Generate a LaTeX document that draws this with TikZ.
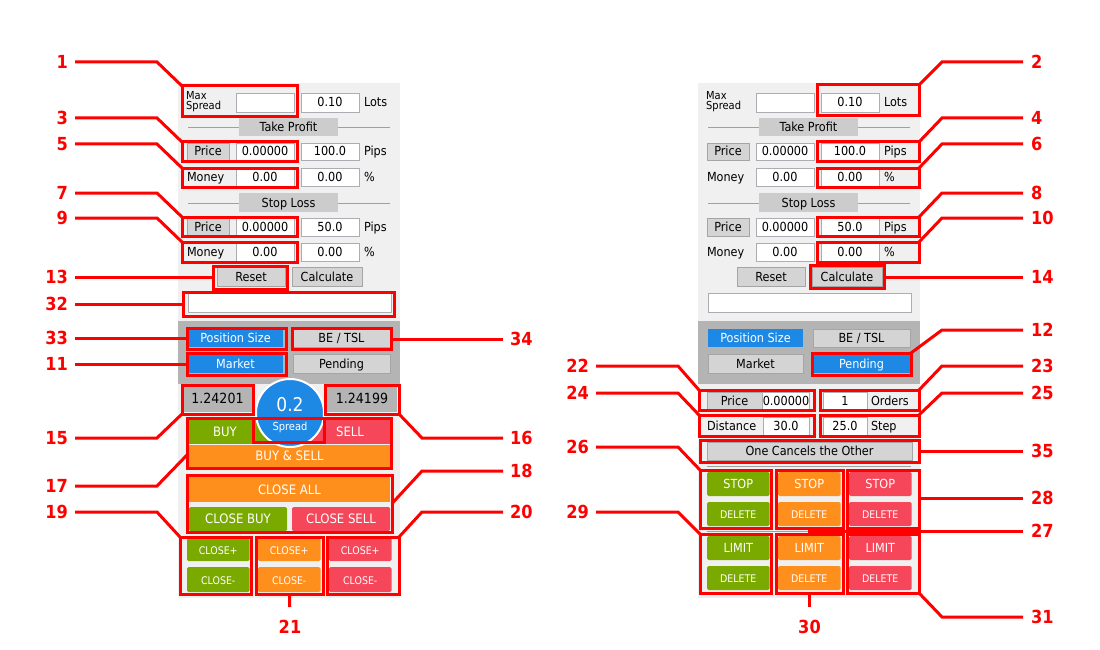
\documentclass[tikz,border=0pt]{standalone}
\usepackage{fontspec}
\usepackage{xcolor}
\usetikzlibrary{fit}
\newfontfamily\uifam{DejaVu Sans Condensed}[BoldFont={DejaVu Sans Condensed Bold}]
\newcommand\uifont{\uifam\fontsize{12.5}{14}\selectfont}
\newcommand\smallui{\uifam\fontsize{10.5}{12}\selectfont}
\newcommand\midui{\uifam\fontsize{12.5}{14}\selectfont}
\newcommand\bigui{\uifam\fontsize{13}{15}\selectfont}
\newcommand\numfont{\uifam\bfseries\fontsize{18}{20}\selectfont}
\definecolor{panelbg}{RGB}{240,240,240}
\definecolor{darkbg}{RGB}{180,180,180}
\definecolor{hlred}{RGB}{255,0,0}
\definecolor{btngray}{RGB}{212,212,212}
\definecolor{btnline}{RGB}{165,165,165}
\definecolor{titlegray}{RGB}{204,204,204}
\definecolor{fieldline}{RGB}{171,173,179}
\definecolor{sepline}{RGB}{160,160,160}
\definecolor{uiblue}{RGB}{30,136,229}
\definecolor{uigreen}{RGB}{122,170,0}
\definecolor{uiorange}{RGB}{255,143,28}
\definecolor{uired}{RGB}{245,70,90}
\definecolor{pricegray}{RGB}{180,180,180}

\begin{document}
\begin{tikzpicture}[x=1pt, y=-1pt,
    ui/.style={font=\uifont, inner sep=0pt, outer sep=0pt, text height=9pt, text depth=0pt},
    wh/.style 2 args={minimum width=#1, minimum height=#2},
    field/.style={ui, draw=fieldline, fill=white, line width=0.8pt},
    gbtn/.style={ui, draw=btnline, fill=btngray, line width=0.8pt},
    titlebtn/.style={ui, fill=titlegray},
    cbtn/.style={ui, fill=#1, text=white, rounded corners=1.5pt},
    hl/.style={draw=hlred, line width=3pt, inner sep=0pt, outer sep=0pt},
    num/.style={font=\numfont, text=hlred, inner sep=0pt, outer sep=0pt},
    lead/.style={draw=hlred, line width=3pt},
    divider/.style={draw=sepline, line width=0.8pt}]
    \useasboundingbox (0,0) rectangle (1100,650);
    \fill[white] (0,0) rectangle (1100,650);

    % panels
    \foreach \dx in {0,520} {
        \fill[panelbg] (178+\dx,83) rectangle (400+\dx,598);
        \fill[darkbg] (178+\dx,321) rectangle (400+\dx,384);
    }

    % top part, the same in both panels
    \foreach \p/\dx in {L/0,R/520} {
        \node[anchor=west, align=left, inner sep=0pt, font=\uifam\fontsize{11}{10}\selectfont] (\p-mslbl) at (186+\dx,102) {Max\\Spread};
        \node[field, fit={(236+\dx,93) (294+\dx,112)}] (\p-ms) {};
        \node[field, wh={58}{19}] (\p-lots) at (330+\dx,102.5) {0.10};
        \node[ui, anchor=west] (\p-lotslbl) at (364+\dx,102.5) {Lots};
        % take profit
        \draw[divider] (188+\dx,127) -- (390+\dx,127);
        \node[titlebtn, wh={99}{18}] (\p-tp) at (288.5+\dx,127) {Take Profit};
        \node[gbtn, wh={42}{17}] (\p-tpprice) at (208+\dx,151.5) {Price};
        \node[field, wh={58}{17}] (\p-tpval) at (265+\dx,151.5) {0.00000};
        \node[field, wh={58}{17}] (\p-tppips) at (330+\dx,151.5) {100.0};
        \node[ui, anchor=west] (\p-tppipslbl) at (364+\dx,151.5) {Pips};
        \node[ui, anchor=west] (\p-tpmoneylbl) at (187+\dx,177) {Money};
        \node[field, wh={58}{18}] (\p-tpmoney) at (265+\dx,177) {0.00};
        \node[field, wh={58}{18}] (\p-tppct) at (330+\dx,177) {0.00};
        \node[ui, anchor=west] (\p-tppctlbl) at (364+\dx,177) {\%};
        % stop loss
        \draw[divider] (188+\dx,203) -- (390+\dx,203);
        \node[titlebtn, wh={99}{19}] (\p-sl) at (288.5+\dx,202.5) {Stop Loss};
        \node[gbtn, wh={42}{18}] (\p-slprice) at (208+\dx,227) {Price};
        \node[field, wh={58}{18}] (\p-slval) at (265+\dx,227) {0.00000};
        \node[field, wh={58}{18}] (\p-slpips) at (330+\dx,227) {50.0};
        \node[ui, anchor=west] (\p-slpipslbl) at (364+\dx,227) {Pips};
        \node[ui, anchor=west] (\p-slmoneylbl) at (187+\dx,252) {Money};
        \node[field, wh={58}{18}] (\p-slmoney) at (265+\dx,252) {0.00};
        \node[field, wh={58}{18}] (\p-slpct) at (330+\dx,252) {0.00};
        \node[ui, anchor=west] (\p-slpctlbl) at (364+\dx,252) {\%};
        % buttons and message line
        \node[gbtn, wh={68}{19}] (\p-reset) at (251+\dx,276.5) {Reset};
        \node[gbtn, wh={70}{19}] (\p-calc) at (327+\dx,276.5) {Calculate};
        \node[field, fit={(188+\dx,293) (391+\dx,312)}] (\p-msg) {};
        \node[cbtn=uiblue, rounded corners=0pt, wh={95}{18}] (\p-possize) at (235.5+\dx,338) {Position Size};
        \node[gbtn, wh={97}{18}] (\p-betsl) at (341.5+\dx,338) {BE / TSL};
    }

    % market / pending
    \node[cbtn=uiblue, rounded corners=0pt, wh={95}{19}] (L-market) at (235.5,363.5) {Market};
    \node[gbtn, wh={97}{19}] (L-pending) at (341.5,363.5) {Pending};
    \node[gbtn, wh={95}{19}] (R-market) at (755.5,363.5) {Market};
    \node[cbtn=uiblue, rounded corners=0pt, wh={97}{19}] (R-pending) at (861.5,363.5) {Pending};

    % left panel: market orders
    \node[ui, fill=pricegray, font=\uifam\fontsize{14}{15}\selectfont, wh={69}{26}] (ask) at (217.5,399) {1.24201};
    \node[ui, fill=pricegray, font=\uifam\fontsize{14}{15}\selectfont, wh={70}{26}] (bid) at (362,399) {1.24199};
    \fill[uigreen] (189,419) rectangle (290,444);
    \fill[uired] (290,419) rectangle (390,444);
    \node[ui, text=white, font=\bigui] (buy) at (225,431.5) {BUY};
    \node[ui, text=white, font=\bigui] (sell) at (350,431.5) {SELL};
    \node[cbtn=uiorange, rounded corners=0pt, font=\bigui, wh={201}{23}] (buysell) at (289.5,456) {BUY \& SELL};
    \node[circle, fill=uiblue, draw=white, line width=2pt, minimum size=68pt, inner sep=0pt] (spread) at (290,413) {};
    \node[ui, text=white, font=\uifam\fontsize{19}{21}\selectfont, text height=13.8pt] (spreadval) at (290,404.5) {0.2};
    \node[ui, text=white, font=\uifam\fontsize{11}{12}\selectfont, text height=8pt] (spreadlbl) at (290,426) {Spread};
    \draw[hlred, line width=3pt] (253,418) rectangle (324,442);
    \node[cbtn=uiorange, rounded corners=0pt, font=\bigui, wh={201}{25}] (closeall) at (289.5,489.5) {CLOSE ALL};
    \node[cbtn=uigreen, font=\bigui, wh={98}{24}] (closebuy) at (238,519) {CLOSE BUY};
    \node[cbtn=uired, font=\bigui, wh={98}{24}] (closesell) at (341,519) {CLOSE SELL};
    \foreach \c/\x/\col in {1/187/uigreen,2/258/uiorange,3/329/uired} {
        \node[cbtn=\col, font=\smallui, wh={62.5}{23}] (closep\c) at (\x+31.25,549.5) {CLOSE+};
        \node[cbtn=\col, font=\smallui, wh={62.5}{25}] (closem\c) at (\x+31.25,579.5) {CLOSE-};
    }

    % right panel: pending orders
    \node[gbtn, wh={55}{17}] (pprice) at (734.5,400.5) {Price};
    \node[field, wh={46}{17}] (ppriceval) at (786,400.5) {0.00000};
    \node[field, wh={44}{17}] (orders) at (845,400.5) {1};
    \node[ui, anchor=west] (orderslbl) at (871,400.5) {Orders};
    \node[ui, anchor=west] (distlbl) at (707,426) {Distance};
    \node[field, wh={46}{18}] (dist) at (786,426) {30.0};
    \node[field, wh={44}{18}] (stepval) at (845,426) {25.0};
    \node[ui, anchor=west] (steplbl) at (871,426) {Step};
    \node[gbtn, wh={205}{18}] (oco) at (809.5,451) {One Cancels the Other};
    \draw[divider] (707,466) -- (911,466);
    \draw[divider] (707,531) -- (911,531);
    \foreach \c/\x/\col in {1/707/uigreen,2/778/uiorange,3/849/uired} {
        \node[cbtn=\col, font=\midui, wh={62.5}{24}] (stop\c) at (\x+31.25,484) {STOP};
        \node[cbtn=\col, font=\smallui, wh={62.5}{24}] (stopdel\c) at (\x+31.25,514) {DELETE};
        \node[cbtn=\col, font=\midui, wh={62.5}{24}] (limit\c) at (\x+31.25,548) {LIMIT};
        \node[cbtn=\col, font=\smallui, wh={62.5}{24}] (limitdel\c) at (\x+31.25,578) {DELETE};
    }

    % red marks, left panel
    \node[hl, fit={(182,86) (297,117)}] (h1) {};
    \node[hl, fit={(182,142) (297,161)}] (h3) {};
    \node[hl, fit={(182,168) (297,187)}] (h5) {};
    \node[hl, fit={(182,217) (297,236)}] (h7) {};
    \node[hl, fit={(182,242) (297,262)}] (h9) {};
    \node[hl, fit={(213,266) (287,289)}] (h13) {};
    \node[hl, fit={(183,292) (394,316)}] (h32) {};
    \node[hl, fit={(187,328) (286,349)}] (h33) {};
    \node[hl, fit={(292,328) (391,349)}] (h34) {};
    \node[hl, fit={(187,353) (286,375)}] (h11) {};
    \node[hl, fit={(182,385) (253,414)}] (h15) {};
    \node[hl, fit={(325,385) (399,414)}] (h16) {};
    \node[hl, fit={(187,418) (391,468)}] (h17) {};
    \node[hl, fit={(187,475) (392,532)}] (h18) {};
    \node[hl, fit={(180,537) (251,594)}] (h19) {};
    \node[hl, fit={(256,537) (323,594)}] (h21) {};
    \node[hl, fit={(327,537) (399,594)}] (h20) {};

    % red marks, right panel
    \node[hl, fit={(817,85) (919,116)}] (h2) {};
    \node[hl, fit={(817,142) (919,161)}] (h4) {};
    \node[hl, fit={(817,168) (919,187)}] (h6) {};
    \node[hl, fit={(817,217) (919,236)}] (h8) {};
    \node[hl, fit={(817,242) (919,262)}] (h10) {};
    \node[hl, fit={(810,265) (884,288)}] (h14) {};
    \node[hl, fit={(812,353) (911,375)}] (h12) {};
    \node[hl, fit={(699,390) (814,410)}] (h22) {};
    \node[hl, fit={(820,390) (919,410)}] (h23) {};
    \node[hl, fit={(699,415) (814,436)}] (h24) {};
    \node[hl, fit={(820,415) (919,436)}] (h25) {};
    \node[hl, fit={(700,440) (919,462)}] (h35) {};
    \node[hl, fit={(700,470) (771,528)}] (h26) {};
    \node[hl, fit={(776,470) (843,528)}] (h27) {};
    \node[hl, fit={(847,470) (919,528)}] (h28) {};
    \node[hl, fit={(700,534) (771,593)}] (h29) {};
    \node[hl, fit={(776,534) (843,593)}] (h30) {};
    \node[hl, fit={(847,534) (919,593)}] (h31) {};

    % numbers left of the left panel
    \foreach \n/\y in {1/62,3/118,5/144,7/193,9/218,19/512} {
        \node[num, anchor=east] (l\n) at (68,\y) {\n};
        \draw[lead, shorten <=7pt] (l\n.east) -- ++(89,0) -- (h\n.north west);
    }
    \foreach \n/\y in {13/277,32/304,33/338,11/364} {
        \node[num, anchor=east] (l\n) at (68,\y) {\n};
        \draw[lead, shorten <=7pt] (l\n.east) -- (l\n.east -| h\n.west);
    }
    \node[num, anchor=east] (l15) at (68,438) {15};
    \draw[lead, shorten <=7pt] (l15.east) -- ++(89,0) -- (h15.south west);
    \node[num, anchor=east] (l17) at (68,486) {17};
    \draw[lead, shorten <=7pt] (l17.east) -- ++(89,0) -- ([yshift=-12pt]h17.west);

    % numbers between the panels
    \node[num, anchor=west] (l34) at (510,339) {34};
    \draw[lead, shorten <=7pt] (l34.west) -- (l34.west -| h34.east);
    \node[num, anchor=west] (l16) at (510,438) {16};
    \draw[lead, shorten <=7pt] (l16.west) -- ++(-88,0) -- (h16.south east);
    \node[num, anchor=west] (l18) at (510,471) {18};
    \draw[lead, shorten <=7pt] (l18.west) -- ++(-88,0) -- (h18.east);
    \node[num, anchor=west] (l20) at (510,512) {20};
    \draw[lead, shorten <=7pt] (l20.west) -- ++(-88,0) -- (h20.north east);
    \foreach \n/\y in {22/366,24/393,26/447,29/512} {
        \node[num, anchor=east] (l\n) at (589,\y) {\n};
        \draw[lead, shorten <=7pt] (l\n.east) -- ++(89,0) -- (h\n.north west);
    }

    % numbers right of the right panel
    \foreach \n/\y in {2/62,4/118,6/144,8/193,10/218,12/330,23/366,25/393} {
        \node[num, anchor=west] (l\n) at (1031,\y) {\n};
        \draw[lead, shorten <=8pt] (l\n.west) -- ++(-89,0) -- (h\n.north east);
    }
    \foreach \n/\y in {14/277,35/451,28/498} {
        \node[num, anchor=west] (l\n) at (1031,\y) {\n};
        \draw[lead, shorten <=8pt] (l\n.west) -- (l\n.west -| h\n.east);
    }
    \node[num, anchor=west] (l27) at (1031,531) {27};
    \draw[lead, shorten >=8pt] (h27.south) |- (l27.west);
    \node[num, anchor=west] (l31) at (1031,617) {31};
    \draw[lead, shorten <=8pt] (l31.west) -- ++(-89,0) -- (h31.south east);

    % numbers below
    \node[num, anchor=north] (l21) at (290,620) {21};
    \draw[lead, shorten >=13pt] (h21.south) -- (l21.north);
    \node[num, anchor=north] (l30) at (809.5,620) {30};
    \draw[lead, shorten >=13pt] (h30.south) -- (l30.north);
\end{tikzpicture}
\end{document}
